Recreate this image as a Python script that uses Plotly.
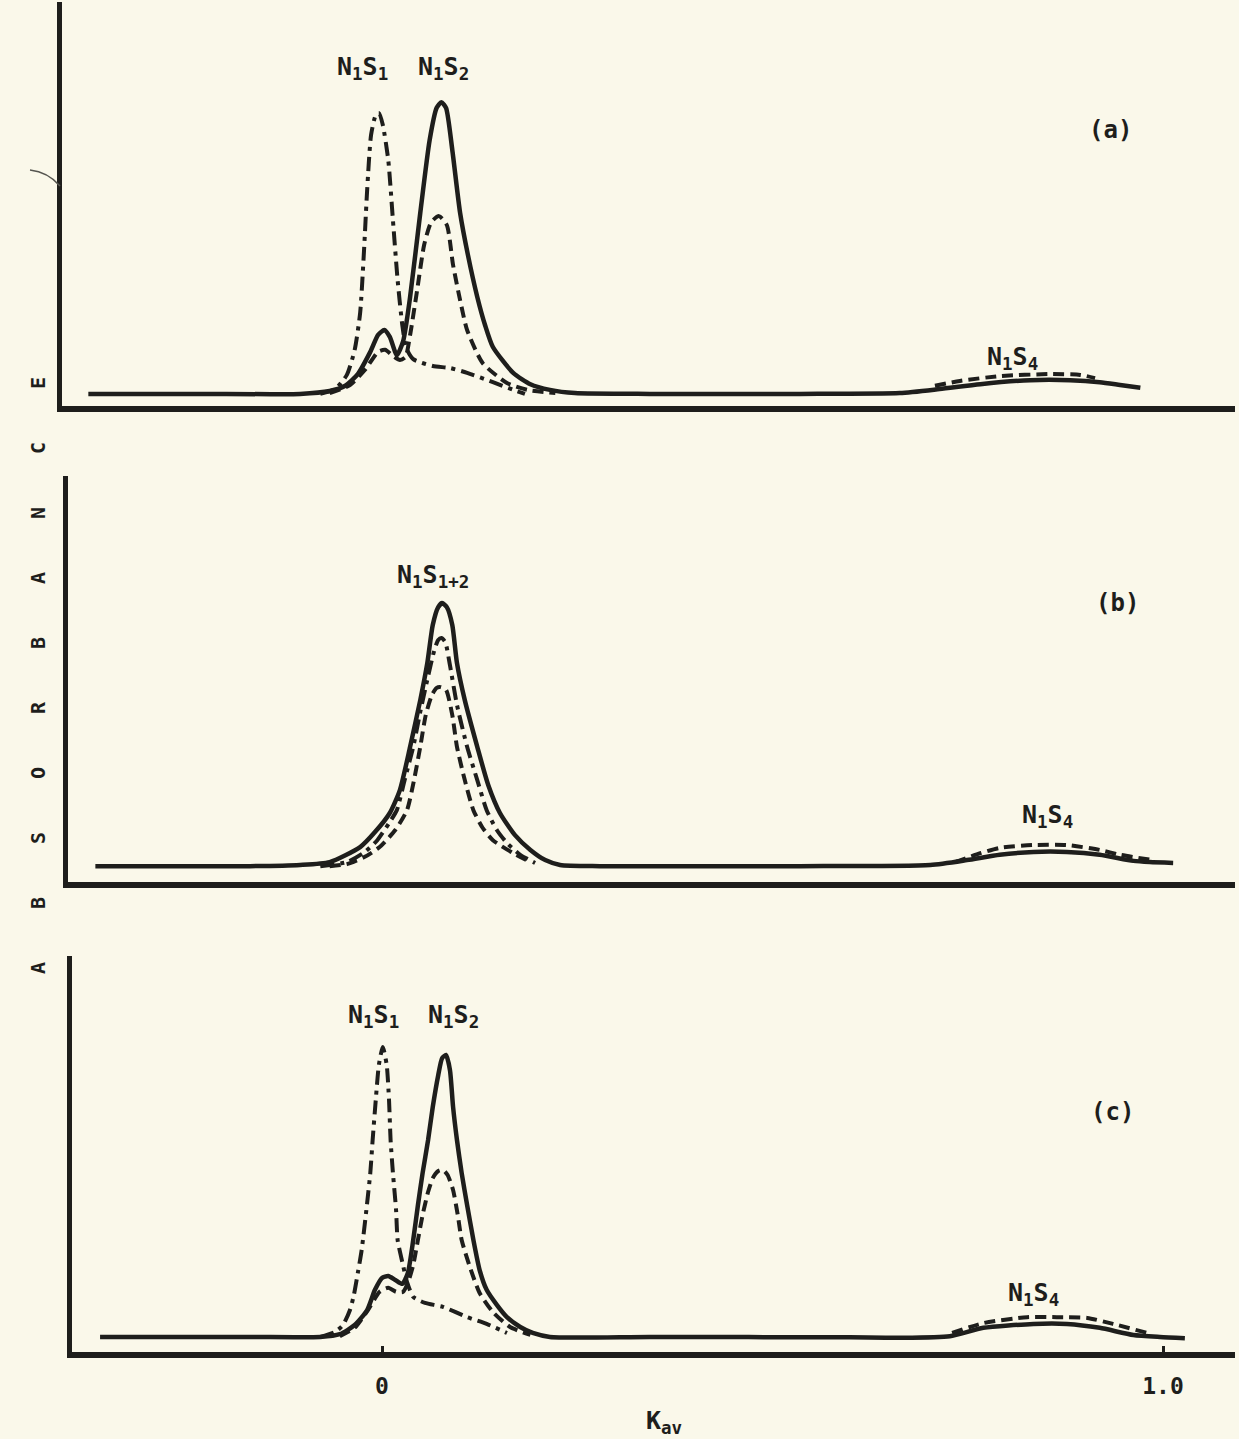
import plotly.graph_objects as go

W, H = 1239, 1439
INK = "#1e1e1c"
PAPER = "#faf8ea"
FONT = "DejaVu Sans Mono"

# ---------------- panel (a) ----------------
a_solid_kav = [-0.376, -0.233, -0.105, -0.067, -0.047, -0.031, -0.015, -0.005, 0.003, 0.010,
               0.019, 0.027, 0.036, 0.049, 0.061, 0.070, 0.076, 0.082, 0.090, 0.100,
               0.110, 0.122, 0.132, 0.142, 0.168, 0.190, 0.215, 0.247, 0.343, 0.535,
               0.663, 0.714, 0.766, 0.830, 0.881, 0.919, 0.945, 0.971]
a_solid_abs = [0.030, 0.030, 0.030, 0.037, 0.050, 0.079, 0.134, 0.176, 0.188, 0.171,
               0.126, 0.160, 0.270, 0.478, 0.658, 0.738, 0.752, 0.738, 0.634, 0.478,
               0.374, 0.270, 0.200, 0.146, 0.082, 0.054, 0.040, 0.032, 0.030, 0.030,
               0.032, 0.042, 0.054, 0.064, 0.064, 0.059, 0.052, 0.045]

a_dash_kav = [-0.067, -0.041, -0.022, -0.005, 0.004, 0.014, 0.023, 0.030, 0.036, 0.045,
              0.054, 0.063, 0.073, 0.083, 0.091, 0.100, 0.109, 0.129, 0.160, 0.186, 0.222]
a_dash_abs = [0.032, 0.052, 0.089, 0.134, 0.139, 0.124, 0.114, 0.121, 0.176, 0.287,
              0.399, 0.455, 0.470, 0.448, 0.349, 0.262, 0.188, 0.106, 0.057, 0.040, 0.032]

a_dash4_kav = [0.708, 0.740, 0.791, 0.855, 0.894, 0.913]
a_dash4_abs = [0.050, 0.062, 0.074, 0.079, 0.077, 0.069]

a_dashdot_kav = [-0.079, -0.060, -0.045, -0.035, -0.028, -0.023, -0.019, -0.014, -0.008, -0.004,
                 0.001, 0.008, 0.014, 0.020, 0.026, 0.031, 0.040, 0.065, 0.087, 0.109,
                 0.142, 0.168, 0.183]
a_dashdot_abs = [0.030, 0.042, 0.077, 0.139, 0.230, 0.386, 0.535, 0.671, 0.720, 0.725,
                 0.696, 0.609, 0.460, 0.312, 0.200, 0.144, 0.116, 0.099, 0.094, 0.082,
                 0.059, 0.040, 0.030]

# ---------------- panel (b) ----------------
b_solid_kav = [-0.367, -0.169, -0.105, -0.067, -0.028, -0.009, 0.010, 0.023, 0.036, 0.049,
               0.058, 0.065, 0.072, 0.077, 0.083, 0.090, 0.096, 0.106, 0.122, 0.136,
               0.151, 0.170, 0.190, 0.209, 0.228, 0.279, 0.535, 0.702, 0.749, 0.791,
               0.834, 0.877, 0.919, 0.962, 0.983, 1.013]
b_solid_abs = [0.039, 0.039, 0.042, 0.049, 0.086, 0.123, 0.170, 0.227, 0.333, 0.448,
               0.539, 0.633, 0.677, 0.687, 0.677, 0.633, 0.539, 0.448, 0.333, 0.239,
               0.170, 0.116, 0.079, 0.054, 0.042, 0.039, 0.039, 0.042, 0.054, 0.067,
               0.074, 0.074, 0.067, 0.052, 0.049, 0.047]

b_dash_kav = [-0.067, -0.045, -0.022, -0.003, 0.017, 0.032, 0.041, 0.049, 0.056, 0.064,
              0.070, 0.075, 0.082, 0.090, 0.096, 0.106, 0.117, 0.129, 0.142, 0.168, 0.190]
b_dash_abs = [0.039, 0.044, 0.062, 0.086, 0.128, 0.177, 0.251, 0.333, 0.411, 0.461,
              0.478, 0.480, 0.473, 0.411, 0.333, 0.251, 0.177, 0.133, 0.103, 0.071, 0.049]

b_dash4_kav = [0.734, 0.766, 0.791, 0.834, 0.877, 0.919, 0.945, 0.987]
b_dash4_abs = [0.049, 0.071, 0.084, 0.091, 0.091, 0.079, 0.067, 0.054]

b_dashdot_kav = [-0.079, -0.045, -0.022, -0.006, 0.010, 0.019, 0.029, 0.040, 0.049, 0.058,
                 0.067, 0.072, 0.076, 0.081, 0.087, 0.096, 0.109, 0.122, 0.134, 0.147,
                 0.160, 0.177, 0.196]
b_dashdot_abs = [0.039, 0.049, 0.074, 0.103, 0.148, 0.177, 0.251, 0.333, 0.419, 0.498,
                 0.571, 0.596, 0.601, 0.591, 0.534, 0.436, 0.333, 0.251, 0.177, 0.128,
                 0.096, 0.067, 0.047]

# ---------------- panel (c) ----------------
c_solid_kav = [-0.361, -0.169, -0.079, -0.054, -0.035, -0.019, -0.009, 0.000, 0.008, 0.017,
               0.026, 0.033, 0.040, 0.046, 0.052, 0.059, 0.065, 0.072, 0.077, 0.082,
               0.087, 0.091, 0.096, 0.102, 0.109, 0.117, 0.125, 0.134, 0.147, 0.160,
               0.177, 0.193, 0.215, 0.343, 0.599, 0.663, 0.727, 0.770, 0.834, 0.877,
               0.919, 0.962, 0.996, 1.028]
c_solid_abs = [0.038, 0.038, 0.038, 0.045, 0.068, 0.106, 0.157, 0.187, 0.192, 0.182,
               0.172, 0.199, 0.283, 0.371, 0.452, 0.535, 0.619, 0.699, 0.742, 0.750,
               0.712, 0.619, 0.535, 0.452, 0.371, 0.283, 0.207, 0.157, 0.119, 0.088,
               0.063, 0.048, 0.038, 0.038, 0.037, 0.036, 0.040, 0.061, 0.071, 0.071,
               0.061, 0.043, 0.038, 0.035]

c_dash_kav = [-0.054, -0.035, -0.018, -0.003, 0.008, 0.018, 0.027, 0.033, 0.040, 0.046,
              0.052, 0.059, 0.065, 0.072, 0.078, 0.084, 0.091, 0.097, 0.102, 0.113,
              0.125, 0.142, 0.164, 0.190]
c_dash_abs = [0.040, 0.061, 0.106, 0.152, 0.162, 0.152, 0.152, 0.174, 0.220, 0.283,
              0.346, 0.404, 0.439, 0.457, 0.460, 0.447, 0.409, 0.346, 0.283, 0.212,
              0.149, 0.101, 0.063, 0.043]

c_dash4_kav = [0.730, 0.770, 0.826, 0.864, 0.903, 0.936, 0.980]
c_dash4_abs = [0.048, 0.073, 0.088, 0.088, 0.086, 0.071, 0.048]

c_dashdot_kav = [-0.079, -0.060, -0.050, -0.041, -0.036, -0.031, -0.026, -0.020, -0.015, -0.012,
                 -0.008, -0.004, 0.001, 0.006, 0.009, 0.011, 0.014, 0.018, 0.020, 0.026,
                 0.032, 0.040, 0.055, 0.078, 0.109, 0.134, 0.160]
c_dashdot_abs = [0.038, 0.051, 0.068, 0.106, 0.144, 0.199, 0.258, 0.359, 0.452, 0.535,
                 0.636, 0.725, 0.770, 0.725, 0.636, 0.535, 0.452, 0.359, 0.283, 0.227,
                 0.177, 0.139, 0.124, 0.114, 0.088, 0.071, 0.048]

# x-axis ticks (bottom panel only)
kav_ticks = [0.0, 1.0]
kav_ticktext = ["0", "1.0"]

# axis box of each panel in pixels: left, top, bottom (right edge shared)
PANELS = [(62, 2, 406), (68, 476, 882), (72, 956, 1352)]
RIGHT = 1235
ZERO_PX, UNIT_PX = 382, 781          # pixel of K_av = 0 and pixels per unit K_av

DASHED = "11px,6px"
DASHDOT = "14px,6px,4px,6px"

fig = go.Figure()


def add_curve(kav, ab, panel, dash, width):
    suffix = "" if panel == 1 else str(panel)
    fig.add_trace(go.Scatter(
        x=kav, y=ab, mode="lines",
        line=dict(color=INK, width=width, dash=dash, shape="spline", smoothing=0.6),
        xaxis="x" + suffix, yaxis="y" + suffix,
        hoverinfo="skip", showlegend=False))


add_curve(a_dashdot_kav, a_dashdot_abs, 1, DASHDOT, 4)
add_curve(a_dash_kav, a_dash_abs, 1, DASHED, 4)
add_curve(a_dash4_kav, a_dash4_abs, 1, DASHED, 4)
add_curve(a_solid_kav, a_solid_abs, 1, "solid", 4.5)

add_curve(b_dashdot_kav, b_dashdot_abs, 2, DASHDOT, 4)
add_curve(b_dash_kav, b_dash_abs, 2, DASHED, 4)
add_curve(b_dash4_kav, b_dash4_abs, 2, DASHED, 4)
add_curve(b_solid_kav, b_solid_abs, 2, "solid", 4.5)

add_curve(c_dashdot_kav, c_dashdot_abs, 3, DASHDOT, 4)
add_curve(c_dash_kav, c_dash_abs, 3, DASHED, 4)
add_curve(c_dash4_kav, c_dash4_abs, 3, DASHED, 4)
add_curve(c_solid_kav, c_solid_abs, 3, "solid", 4.5)

layout = dict(
    width=W, height=H,
    margin=dict(l=0, r=0, t=0, b=0),
    paper_bgcolor=PAPER, plot_bgcolor=PAPER,
    showlegend=False,
)

for i, (left, top, bottom) in enumerate(PANELS, start=1):
    suffix = "" if i == 1 else str(i)
    xa = dict(
        domain=[left / W, RIGHT / W],
        range=[(left - ZERO_PX) / UNIT_PX, (RIGHT - ZERO_PX) / UNIT_PX],
        showline=True, linewidth=6, linecolor=INK,
        showgrid=False, zeroline=False, fixedrange=True,
        anchor="y" + suffix,
        showticklabels=False, ticks="",
    )
    if i == 3:
        xa.update(
            tickmode="array", tickvals=kav_ticks, ticktext=kav_ticktext,
            showticklabels=True, ticks="inside", ticklen=6, tickwidth=3, tickcolor=INK,
            ticklabelstandoff=8,
            tickfont=dict(family=FONT, size=23, color=INK, weight="bold"),
        )
    ya = dict(
        domain=[1 - bottom / H, 1 - top / H],
        range=[0, 1],
        showline=True, linewidth=5, linecolor=INK,
        showgrid=False, zeroline=False, showticklabels=False, ticks="",
        fixedrange=True, anchor="x" + suffix,
    )
    layout["xaxis" + suffix] = xa
    layout["yaxis" + suffix] = ya

fig.update_layout(**layout)


def label(text, px, py, size=25):
    fig.add_annotation(
        text=text, x=px / W, y=1 - py / H, xref="paper", yref="paper",
        showarrow=False, xanchor="center", yanchor="middle",
        font=dict(family=FONT, size=size, color=INK, weight="bold"))


# peak labels
label("N<sub>1</sub>S<sub>1</sub>", 362, 68)
label("N<sub>1</sub>S<sub>2</sub>", 443, 68)
label("N<sub>1</sub>S<sub>4</sub>", 1012, 358)
label("(a)", 1110, 130, 24)

label("N<sub>1</sub>S<sub>1+2</sub>", 433, 576)
label("N<sub>1</sub>S<sub>4</sub>", 1047, 816)
label("(b)", 1117, 603, 24)

label("N<sub>1</sub>S<sub>1</sub>", 373, 1016)
label("N<sub>1</sub>S<sub>2</sub>", 453, 1016)
label("N<sub>1</sub>S<sub>4</sub>", 1033, 1294)
label("(c)", 1112, 1112, 24)

# x-axis title
label("K<sub>av</sub>", 664, 1422, 25)

# y-axis title, one spaced-out letter at a time, reading bottom to top
ylabel_letters = list("ABSORBANCE")
ylabel_px = [968, 903, 838, 773, 708, 643, 578, 513, 448, 383]
for ch, py in zip(ylabel_letters, ylabel_px):
    fig.add_annotation(
        text=ch, x=38 / W, y=1 - py / H, xref="paper", yref="paper",
        showarrow=False, textangle=-90, xanchor="center", yanchor="middle",
        font=dict(family=FONT, size=20, color=INK, weight="bold"))

# stray pen stroke at the left of the top panel
fig.add_shape(type="path", xref="paper", yref="paper",
              path=f"M {30 / W},{1 - 170 / H} Q {48 / W},{1 - 172 / H} {60 / W},{1 - 186 / H}",
              line=dict(color="#555550", width=1.5))

fig.write_html("out.html")
